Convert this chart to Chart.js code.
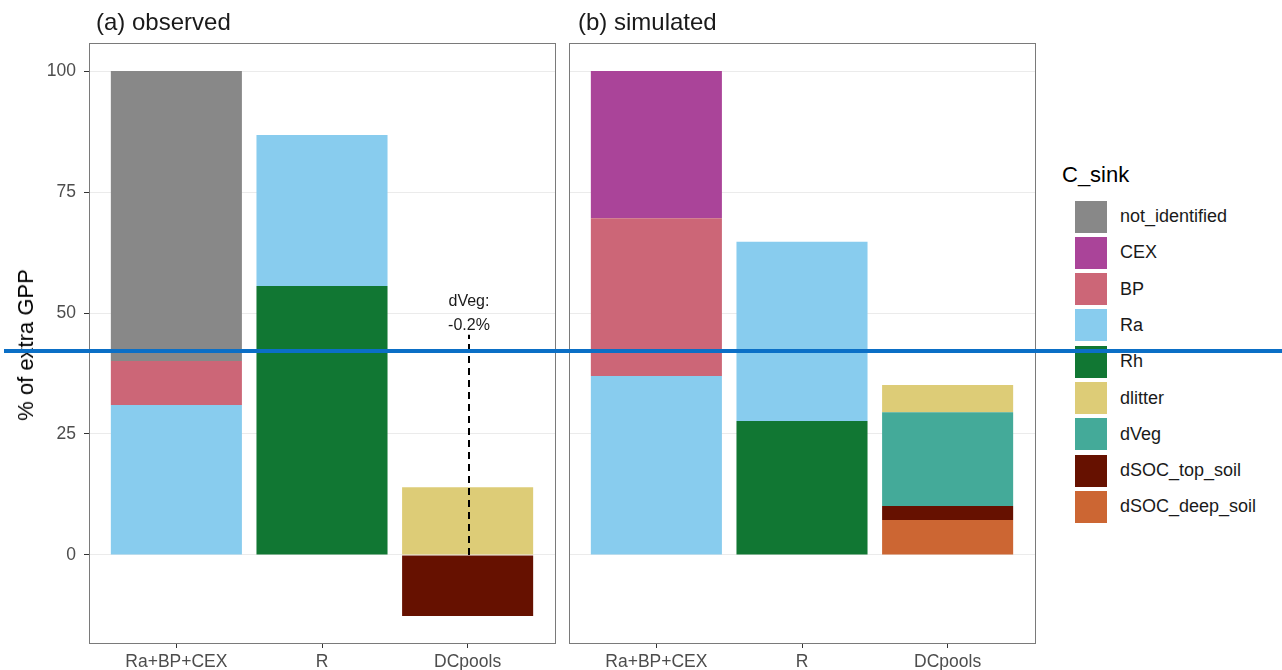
<!DOCTYPE html>
<html>
<head>
<meta charset="utf-8">
<script src="https://cdn.jsdelivr.net/npm/chart.js@4"></script>
<style>
  body { margin: 0; background: #fff; font-family: "Liberation Sans", Arial, sans-serif; }
  #wrap { position: relative; width: 1282px; height: 670px; overflow: hidden; }
  canvas { position: absolute; top: 0; }
  .facet { position: absolute; top: 8px; font-size: 24px; color: #1a1a1a; line-height: 1.15; }
  #ylab { position: absolute; left: 26px; top: 345px; font-size: 22px; color: #000;
          transform: translate(-50%, -50%) rotate(-90deg); white-space: nowrap; }
  #legend { position: absolute; left: 1062px; top: 162px; }
  #legend .title { font-size: 22px; color: #000; line-height: 1.15; }
  .item { position: absolute; left: 13px; height: 33px; display: flex; align-items: center; }
  .item .key { width: 32px; height: 32px; margin-right: 13px; }
  .item span { font-size: 18px; color: #1a1a1a; }
  #mark { position: absolute; left: 4px; top: 349px; width: 1278px; height: 4px; background: #0b6fc6; }
</style>
</head>
<body>
<div id="wrap">
  <canvas id="obs" width="560" height="670" style="left:0"></canvas>
  <canvas id="sim" width="480" height="670" style="left:560px"></canvas>
  <div class="facet" style="left:96px">(a) observed</div>
  <div class="facet" style="left:578px">(b) simulated</div>
  <div id="ylab">% of extra GPP</div>
  <div id="legend"><div class="title">C_sink</div></div>
  <div id="mark"></div>
</div>
<script>
// categories on the x axis
const categories = ['Ra+BP+CEX', 'R', 'DCpools'];
const yTicks = [0, 25, 50, 75, 100];

// legend order (top of stack first)
const sinks = ['not_identified', 'CEX', 'BP', 'Ra', 'Rh', 'dlitter', 'dVeg', 'dSOC_top_soil', 'dSOC_deep_soil'];
const sinkColors = ['#888888', '#AA4499', '#CC6677', '#88CCEE', '#117733', '#DDCC77', '#44AA99', '#661100', '#CC6633'];

// observed, % of extra GPP per category
// (dVeg is only -0.2 %, too small to see; it is given in the note instead)
const obsNotIdentified = [59.9, 0, 0];
const obsCEX = [0, 0, 0];
const obsBP = [9.1, 0, 0];
const obsRa = [31.0, 31.2, 0];
const obsRh = [0, 55.6, 0];
const obsLitter = [0, 0, 14.0];
const obsVeg = [0, 0, 0];
const obsSOCtop = [0, 0, -12.6];
const obsSOCdeep = [0, 0, 0];

// simulated
const simNotIdentified = [0, 0, 0];
const simCEX = [30.4, 0, 0];
const simBP = [32.6, 0, 0];
const simRa = [37.0, 37.0, 0];
const simRh = [0, 27.7, 0];
const simLitter = [0, 0, 5.6];
const simVeg = [0, 0, 19.4];
const simSOCtop = [0, 0, 2.9];
const simSOCdeep = [0, 0, 7.2];

// dVeg note in panel (a)
const noteLines = ['dVeg:', '-0.2%'];
const noteLineTop = 45.5;

const obsSeries = [obsNotIdentified, obsCEX, obsBP, obsRa, obsRh, obsLitter, obsVeg, obsSOCtop, obsSOCdeep];
const simSeries = [simNotIdentified, simCEX, simBP, simRa, simRh, simLitter, simVeg, simSOCtop, simSOCdeep];

const FONT = '"Liberation Sans", Arial, sans-serif';

// ggplot stacks the first level on top, chart.js stacks from the bottom -> reverse
function makeDatasets(series) {
  return sinks.map((name, i) => ({
    label: name,
    data: series[i].map((v, j) => ({ x: j + 1, y: v })),
    backgroundColor: sinkColors[i],
    borderWidth: 0,
    barPercentage: 0.9,
    categoryPercentage: 1.0,
  })).reverse();
}

const panelBorder = {
  id: 'panelBorder',
  afterDraw(chart) {
    const a = chart.chartArea, ctx = chart.ctx;
    ctx.save();
    ctx.strokeStyle = '#7a7a7a';
    ctx.lineWidth = 1;
    ctx.strokeRect(Math.round(a.left) + 0.5, Math.round(a.top) + 0.5, Math.round(a.right - a.left), Math.round(a.bottom - a.top));
    ctx.restore();
  }
};

const dVegNote = {
  id: 'dVegNote',
  afterDatasetsDraw(chart) {
    const ctx = chart.ctx, xs = chart.scales.x, ys = chart.scales.y;
    const x = Math.round(xs.getPixelForValue(3)) + 1;
    ctx.save();
    ctx.strokeStyle = '#000';
    ctx.lineWidth = 2;
    ctx.setLineDash([7, 5]);
    ctx.beginPath();
    ctx.moveTo(x, ys.getPixelForValue(0));
    ctx.lineTo(x, ys.getPixelForValue(noteLineTop));
    ctx.stroke();
    ctx.setLineDash([]);
    ctx.fillStyle = '#1a1a1a';
    ctx.font = '16px ' + FONT;
    ctx.textAlign = 'center';
    ctx.textBaseline = 'middle';
    ctx.fillText(noteLines[0], x, ys.getPixelForValue(52.3));
    ctx.fillText(noteLines[1], x, ys.getPixelForValue(47.5));
    ctx.restore();
  }
};

function makeChart(id, series, showY, padding, plugins) {
  return new Chart(document.getElementById(id), {
    type: 'bar',
    data: { datasets: makeDatasets(series) },
    options: {
      responsive: false,
      animation: false,
      layout: { padding: padding },
      plugins: { legend: { display: false }, tooltip: { enabled: false } },
      scales: {
        x: {
          type: 'linear',
          stacked: true,
          offset: false,
          min: 0.4,
          max: 3.6,
          afterBuildTicks: s => { s.ticks = categories.map((c, i) => ({ value: i + 1 })); },
          afterFit: s => { s.height = 27; },
          grid: { drawOnChartArea: false, drawTicks: true, tickLength: 5, tickColor: '#333', offset: false },
          border: { display: false },
          ticks: {
            callback: v => categories[v - 1],
            font: { size: 17.5, family: FONT },
            color: '#4d4d4d',
            padding: 4,
            maxRotation: 0,
          },
        },
        y: {
          stacked: true,
          min: -18.2,
          max: 105.8,
          afterBuildTicks: s => { s.ticks = yTicks.map(v => ({ value: v })); },
          afterFit: s => { s.width = showY ? 89 : 0; },
          grid: { color: '#EBEBEB', drawTicks: showY, tickLength: 5, tickColor: '#333' },
          border: { display: false },
          ticks: {
            display: showY,
            font: { size: 17.5, family: FONT },
            color: '#4d4d4d',
            padding: 8,
          },
        },
      },
    },
    plugins: plugins,
  });
}

makeChart('obs', obsSeries, true, { top: 43, right: 5, left: 0, bottom: 0 }, [panelBorder, dVegNote]);
makeChart('sim', simSeries, false, { top: 43, right: 5, left: 9, bottom: 0 }, [panelBorder]);

// legend
const legend = document.getElementById('legend');
sinks.forEach((name, i) => {
  const row = document.createElement('div');
  row.className = 'item';
  row.style.top = (38 + i * 36.3) + 'px';
  row.innerHTML = '<div class="key" style="background:' + sinkColors[i] + '"></div><span>' + name + '</span>';
  legend.appendChild(row);
});
</script>
</body>
</html>
